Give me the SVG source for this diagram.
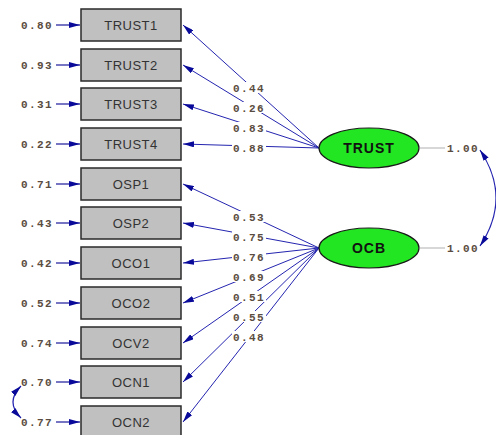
<svg xmlns="http://www.w3.org/2000/svg" width="496" height="435" viewBox="0 0 496 435">
  <style>
    .box rect { fill: #c0c0c0; stroke: #2a2a2a; stroke-width: 1.5; }
    .box text { font-family: "Liberation Sans", Arial, sans-serif; font-size: 13px; fill: #333; text-anchor: middle; letter-spacing: 0.5px; }
    .lat ellipse { fill: #22e622; stroke: #1a1a1a; stroke-width: 1.2; }
    .lat text { font-family: "Liberation Sans", Arial, sans-serif; font-size: 14px; font-weight: bold; fill: #111; text-anchor: middle; letter-spacing: 1px; }
    .num { font-family: "Liberation Mono", "Courier New", monospace; font-size: 11px; font-weight: bold; fill: #5a4c40; letter-spacing: 1.4px; }
    .path { stroke: #2424b0; stroke-width: 1; fill: none; marker-end: url(#head); }
    .err { stroke: #1a1a9c; stroke-width: 1.2; fill: none; marker-end: url(#head); }
    .cov { stroke: #2424b0; stroke-width: 1.2; fill: none; marker-start: url(#head2); marker-end: url(#head2); }
    .var { stroke: #bdbdbd; stroke-width: 1.2; }
    .bg { fill: #fff; }
  </style>
  <defs>
    <marker id="head" markerUnits="userSpaceOnUse" markerWidth="11" markerHeight="6" refX="11" refY="3" orient="auto">
      <path d="M0,0 L11,3 L0,6 z" fill="#0a0a9a"/>
    </marker>
    <marker id="head2" markerUnits="userSpaceOnUse" markerWidth="11" markerHeight="6" refX="11" refY="3" orient="auto-start-reverse">
      <path d="M0,0 L11,3 L0,6 z" fill="#0a0a9a"/>
    </marker>
  </defs>
  <rect width="496" height="435" fill="#fff"/>

  <!-- connectors: loadings, error terms, variances, covariances -->
  <g id="connectors">
    <!-- TRUST loadings -->
    <line class="path" x1="319" y1="148" x2="183" y2="25"/>
    <line class="path" x1="319" y1="148" x2="183" y2="65"/>
    <line class="path" x1="319" y1="148" x2="183" y2="104"/>
    <line class="path" x1="319" y1="148" x2="183" y2="144"/>
    <!-- OCB loadings -->
    <line class="path" x1="319" y1="248" x2="183" y2="184"/>
    <line class="path" x1="319" y1="248" x2="183" y2="223"/>
    <line class="path" x1="319" y1="248" x2="183" y2="263"/>
    <line class="path" x1="319" y1="248" x2="183" y2="303"/>
    <line class="path" x1="319" y1="248" x2="183" y2="343"/>
    <line class="path" x1="319" y1="248" x2="183" y2="382"/>
    <line class="path" x1="319" y1="248" x2="183" y2="422"/>
    <!-- error arrows -->
    <line class="err" x1="56" y1="25" x2="80" y2="25"/>
    <line class="err" x1="56" y1="65" x2="80" y2="65"/>
    <line class="err" x1="56" y1="104" x2="80" y2="104"/>
    <line class="err" x1="56" y1="144" x2="80" y2="144"/>
    <line class="err" x1="56" y1="184" x2="80" y2="184"/>
    <line class="err" x1="56" y1="223" x2="80" y2="223"/>
    <line class="err" x1="56" y1="263" x2="80" y2="263"/>
    <line class="err" x1="56" y1="303" x2="80" y2="303"/>
    <line class="err" x1="56" y1="343" x2="80" y2="343"/>
    <line class="err" x1="56" y1="382" x2="80" y2="382"/>
    <line class="err" x1="56" y1="422" x2="80" y2="422"/>
    <!-- latent variances -->
    <line class="var" x1="420" y1="148" x2="445" y2="148"/>
    <line class="var" x1="420" y1="248" x2="445" y2="248"/>
    <!-- covariances -->
    <path class="cov" d="M480,150 Q512,198 480,246"/>
    <path class="cov" d="M21,386 Q5,402 21,418"/>

    <!-- loading labels -->
    <g>
      <rect class="bg" x="232" y="82" width="34" height="11"/>
      <rect class="bg" x="232" y="102" width="34" height="11"/>
      <rect class="bg" x="232" y="122" width="34" height="11"/>
      <rect class="bg" x="232" y="142" width="34" height="11"/>
      <rect class="bg" x="232" y="211" width="34" height="11"/>
      <rect class="bg" x="232" y="231" width="34" height="11"/>
      <rect class="bg" x="232" y="251" width="34" height="11"/>
      <rect class="bg" x="232" y="271" width="34" height="11"/>
      <rect class="bg" x="232" y="291" width="34" height="11"/>
      <rect class="bg" x="232" y="311" width="34" height="11"/>
      <rect class="bg" x="232" y="331" width="34" height="11"/>
      <text class="num" x="233" y="92">0.44</text>
      <text class="num" x="233" y="112">0.26</text>
      <text class="num" x="233" y="132">0.83</text>
      <text class="num" x="233" y="152">0.88</text>
      <text class="num" x="233" y="221">0.53</text>
      <text class="num" x="233" y="241">0.75</text>
      <text class="num" x="233" y="261">0.76</text>
      <text class="num" x="233" y="281">0.69</text>
      <text class="num" x="233" y="301">0.51</text>
      <text class="num" x="233" y="321">0.55</text>
      <text class="num" x="233" y="341">0.48</text>
    </g>
    <!-- error variance labels -->
    <g>
      <text class="num" x="21" y="29">0.80</text>
      <text class="num" x="21" y="69">0.93</text>
      <text class="num" x="21" y="108">0.31</text>
      <text class="num" x="21" y="148">0.22</text>
      <text class="num" x="21" y="188">0.71</text>
      <text class="num" x="21" y="227">0.43</text>
      <text class="num" x="21" y="267">0.42</text>
      <text class="num" x="21" y="307">0.52</text>
      <text class="num" x="21" y="347">0.74</text>
      <text class="num" x="21" y="386">0.70</text>
      <text class="num" x="21" y="426">0.77</text>
    </g>
    <!-- latent variance labels -->
    <text class="num" x="447" y="152">1.00</text>
    <text class="num" x="447" y="252">1.00</text>
  </g>

  <!-- observed indicators -->
  <g id="TRUST1" class="box"><rect x="81" y="9" width="100" height="32"/><text x="131" y="30">TRUST1</text></g>
  <g id="TRUST2" class="box"><rect x="81" y="49" width="100" height="32"/><text x="131" y="70">TRUST2</text></g>
  <g id="TRUST3" class="box"><rect x="81" y="88" width="100" height="32"/><text x="131" y="109">TRUST3</text></g>
  <g id="TRUST4" class="box"><rect x="81" y="128" width="100" height="32"/><text x="131" y="149">TRUST4</text></g>
  <g id="OSP1" class="box"><rect x="81" y="168" width="100" height="32"/><text x="131" y="189">OSP1</text></g>
  <g id="OSP2" class="box"><rect x="81" y="207" width="100" height="32"/><text x="131" y="228">OSP2</text></g>
  <g id="OCO1" class="box"><rect x="81" y="247" width="100" height="32"/><text x="131" y="268">OCO1</text></g>
  <g id="OCO2" class="box"><rect x="81" y="287" width="100" height="32"/><text x="131" y="308">OCO2</text></g>
  <g id="OCV2" class="box"><rect x="81" y="327" width="100" height="32"/><text x="131" y="348">OCV2</text></g>
  <g id="OCN1" class="box"><rect x="81" y="366" width="100" height="32"/><text x="131" y="387">OCN1</text></g>
  <g id="OCN2" class="box"><rect x="81" y="406" width="100" height="32"/><text x="131" y="427">OCN2</text></g>

  <!-- latent factors -->
  <g id="TRUST" class="lat"><ellipse cx="369" cy="148" rx="50" ry="20"/><text x="369" y="153">TRUST</text></g>
  <g id="OCB" class="lat"><ellipse cx="369" cy="248" rx="50" ry="20"/><text x="369" y="253">OCB</text></g>
</svg>
